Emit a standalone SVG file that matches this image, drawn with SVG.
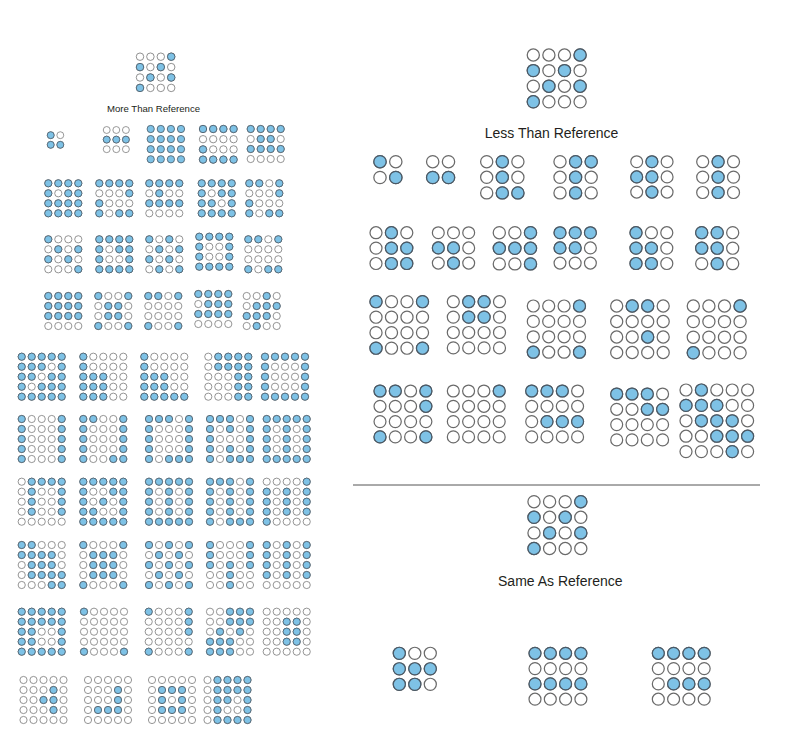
<svg xmlns="http://www.w3.org/2000/svg" xmlns:xlink="http://www.w3.org/1999/xlink" width="791" height="756" viewBox="0 0 791 756">
<style>
.df{fill:#7ec2e6;stroke:#4a5966;stroke-width:.08}
.de{fill:#fff;stroke:#7a7a7a;stroke-width:.08}
.dF{fill:#7ec2e6;stroke:#4a5966;stroke-width:.08}
.dE{fill:#fff;stroke:#6a6a6a;stroke-width:.08}
.f{fill:none;stroke:none;marker:url(#mf)}
.e{fill:none;stroke:none;marker:url(#me)}
.F{fill:none;stroke:none;marker:url(#MF)}
.E{fill:none;stroke:none;marker:url(#ME)}
marker{overflow:visible}
text{font-family:"Liberation Sans",Arial,sans-serif;fill:#231f20;text-anchor:middle}
.sm{font-size:9.6px}
.lg{font-size:14px}
.rule{stroke:#555;stroke-width:1}
</style>
<defs>
<marker id="mf" markerUnits="userSpaceOnUse" markerWidth="1" markerHeight="1" overflow="visible"><circle r=".36" class="df"/></marker>
<marker id="me" markerUnits="userSpaceOnUse" markerWidth="1" markerHeight="1" overflow="visible"><circle r=".36" class="de"/></marker>
<marker id="MF" markerUnits="userSpaceOnUse" markerWidth="1" markerHeight="1" overflow="visible"><circle r=".39" class="dF"/></marker>
<marker id="ME" markerUnits="userSpaceOnUse" markerWidth="1" markerHeight="1" overflow="visible"><circle r=".39" class="dE"/></marker>
<circle id="sF" r=".39" class="dF"/>
<path id="g2" d="M0 0 1 0 0 1 1 1"/>
<path id="g3" d="M0 0 1 0 2 0 0 1 1 1 2 1 0 2 1 2 2 2"/>
<path id="g4" d="M0 0 1 0 2 0 3 0 0 1 1 1 2 1 3 1 0 2 1 2 2 2 3 2 0 3 1 3 2 3 3 3"/>
<path id="g5" d="M0 0 1 0 2 0 3 0 4 0 0 1 1 1 2 1 3 1 4 1 0 2 1 2 2 2 3 2 4 2 0 3 1 3 2 3 3 3 4 3 0 4 1 4 2 4 3 4 4 4"/>
</defs>

<g id="dividers"><line class="rule" x1="353" y1="485" x2="760" y2="485"/></g>

<!-- LEFT: More Than Reference -->
<g id="more-ref" transform="translate(140,56.7) scale(10.4)"><use href="#g4" class="e"/><path class="f" d="M3 0 0 1 2 1 1 2 3 2 0 3"/></g>
<text class="sm" x="153.5" y="111.6">More Than Reference</text>

<g id="m1a" transform="translate(50.7,135.2) scale(9.6)"><use href="#g2" class="e"/><path class="f" d="M0 0 0 1 1 1"/></g>
<g id="m1b" transform="translate(106.7,130) scale(9.6)"><use href="#g3" class="e"/><path class="f" d="M0 1 1 1 2 1"/></g>
<g id="m1c" transform="translate(150.7,129) scale(10.1)"><use href="#g4" class="f"/></g>
<g id="m1d" transform="translate(203,129) scale(10.2)"><use href="#g4" class="e"/><path class="f" d="M0 0 1 0 2 0 3 0 0 2 0 3 1 3 2 3 3 3"/></g>
<g id="m1e" transform="translate(250.7,129) scale(10)"><use href="#g4" class="e"/><path class="f" d="M0 0 1 0 2 0 3 0 1 1 2 1 0 2 1 2 2 2 3 2"/></g>

<g id="m2a" transform="translate(48.3,183.3) scale(10)"><use href="#g4" class="e"/><path class="f" d="M0 0 1 0 2 0 3 0 0 1 2 1 3 1 0 2 1 2 2 2 3 2 0 3 1 3 2 3 3 3"/></g>
<g id="m2b" transform="translate(99.3,183.3) scale(10)"><use href="#g4" class="e"/><path class="f" d="M0 0 1 0 2 0 3 0 3 1 0 2 0 3 2 3 3 3"/></g>
<g id="m2c" transform="translate(149.3,183.3) scale(10)"><use href="#g4" class="e"/><path class="f" d="M0 0 1 0 2 0 3 0 1 1 0 2 1 2 2 2 3 2"/></g>
<g id="m2d" transform="translate(201.7,183.3) scale(10)"><use href="#g4" class="e"/><path class="f" d="M0 0 1 0 2 0 3 0 0 1 2 1 3 1 0 2 1 2 3 2 0 3 1 3 2 3 3 3"/></g>
<g id="m2e" transform="translate(249.3,183.3) scale(10)"><use href="#g4" class="e"/><path class="f" d="M0 0 1 0 3 0 3 1 0 2 0 3 2 3 3 3"/></g>

<g id="m3a" transform="translate(48.3,239.3) scale(10)"><use href="#g4" class="e"/><path class="f" d="M0 0 1 1 3 1 0 2 2 2 3 3"/></g>
<g id="m3b" transform="translate(99.3,239.3) scale(10)"><use href="#g4" class="e"/><path class="f" d="M0 0 1 0 2 0 3 0 0 1 2 1 3 1 0 2 3 2 0 3 1 3 2 3 3 3"/></g>
<g id="m3c" transform="translate(149.3,239.3) scale(10)"><use href="#g4" class="e"/><path class="f" d="M0 0 2 0 1 1 3 1 0 2 2 2 1 3 3 3"/></g>
<g id="m3d" transform="translate(199.3,236.7) scale(10)"><use href="#g4" class="e"/><path class="f" d="M0 0 1 0 2 0 3 0 0 1 3 1 0 2 3 2 0 3 1 3 2 3 3 3"/></g>
<g id="m3e" transform="translate(248.3,239.3) scale(10)"><use href="#g4" class="e"/><path class="f" d="M0 0 1 0 3 0 0 3 2 3 3 3"/></g>

<g id="m4a" transform="translate(48.3,296) scale(10)"><use href="#g4" class="e"/><path class="f" d="M0 0 1 0 2 0 3 0 0 1 1 1 2 1 3 1 0 2 1 2 2 2 3 2"/></g>
<g id="m4b" transform="translate(98.3,296) scale(10)"><use href="#g4" class="e"/><path class="f" d="M0 0 3 0 1 1 2 1 1 2 2 2 0 3 3 3"/></g>
<g id="m4c" transform="translate(148.3,296) scale(10)"><use href="#g4" class="e"/><path class="f" d="M0 0 1 0 3 0 0 3 3 3"/></g>
<g id="m4d" transform="translate(198.3,294) scale(10)"><use href="#g4" class="e"/><path class="f" d="M0 0 1 0 2 0 3 0 1 1 2 1 3 1 0 2 1 2 2 2 3 2"/></g>
<g id="m4e" transform="translate(246.7,296) scale(10)"><use href="#g4" class="e"/><path class="f" d="M2 0 1 1 2 1 3 1 0 2 1 2 2 2 1 3"/></g>

<g id="m5a" transform="translate(21.7,356.7) scale(10)"><use href="#g5" class="e"/><path class="f" d="M0 0 1 0 2 0 3 0 4 0 0 1 1 1 2 1 4 1 0 2 1 2 3 2 4 2 0 3 2 3 3 3 4 3 0 4 1 4 2 4 3 4 4 4"/></g>
<g id="m5b" transform="translate(83.3,356.7) scale(10)"><use href="#g5" class="e"/><path class="f" d="M0 0 0 1 0 2 1 2 2 2 0 3 1 3 2 3 0 4 1 4 2 4"/></g>
<g id="m5c" transform="translate(144.3,356.7) scale(10)"><use href="#g5" class="e"/><path class="f" d="M0 0 0 1 0 2 1 2 2 2 0 3 1 3 2 3 0 4 1 4 2 4 3 4 4 4"/></g>
<g id="m5d" transform="translate(208.3,356.7) scale(10)"><use href="#g5" class="e"/><path class="f" d="M1 0 2 0 3 0 4 0 1 1 2 1 3 1 4 1 3 2 4 2 3 3 4 3 3 4 4 4"/></g>
<g id="m5e" transform="translate(265,356.7) scale(10)"><use href="#g5" class="e"/><path class="f" d="M0 0 1 0 2 0 3 0 4 0 0 1 4 1 0 2 4 2 0 3 4 3 0 4 1 4 2 4 3 4 4 4"/></g>

<g id="m6a" transform="translate(21.7,419) scale(10)"><use href="#g5" class="e"/><path class="f" d="M0 0 4 0 0 1 4 1 0 2 4 2 0 3 4 3 0 4 4 4"/></g>
<g id="m6b" transform="translate(83.3,419) scale(10)"><use href="#g5" class="e"/><path class="f" d="M0 0 1 0 4 0 0 1 4 1 0 2 4 2 0 3 4 3 0 4 3 4 4 4"/></g>
<g id="m6c" transform="translate(149,419) scale(10)"><use href="#g5" class="e"/><path class="f" d="M0 0 1 0 2 0 4 0 0 1 4 1 0 2 4 2 0 3 4 3 0 4 2 4 3 4 4 4"/></g>
<g id="m6d" transform="translate(210,419) scale(10)"><use href="#g5" class="e"/><path class="f" d="M0 0 1 0 2 0 4 0 0 1 2 1 4 1 0 2 4 2 0 3 2 3 4 3 0 4 2 4 3 4 4 4"/></g>
<g id="m6e" transform="translate(266.7,419) scale(10)"><use href="#g5" class="e"/><path class="f" d="M0 0 1 0 2 0 3 0 4 0 0 1 2 1 4 1 0 2 2 2 4 2 0 3 2 3 4 3 0 4 1 4 2 4 3 4 4 4"/></g>

<g id="m7a" transform="translate(21.7,481.7) scale(10)"><use href="#g5" class="e"/><path class="f" d="M1 0 2 0 3 0 4 0 1 1 4 1 1 2 4 2 1 3 4 3"/></g>
<g id="m7b" transform="translate(83.3,481.7) scale(10)"><use href="#g5" class="e"/><path class="f" d="M0 0 1 0 2 0 3 0 4 0 0 1 3 1 4 1 0 2 2 2 4 2 0 3 1 3 4 3 0 4 1 4 2 4 3 4 4 4"/></g>
<g id="m7c" transform="translate(149,481.7) scale(10)"><use href="#g5" class="e"/><path class="f" d="M0 0 1 0 2 0 3 0 4 0 0 1 2 1 4 1 0 2 2 2 4 2 0 3 2 3 4 3 0 4 1 4 2 4 3 4 4 4"/></g>
<g id="m7d" transform="translate(210,481.7) scale(10)"><use href="#g5" class="e"/><path class="f" d="M0 0 1 0 2 0 4 0 0 1 2 1 4 1 0 2 2 2 4 2 0 3 2 3 4 3 0 4 2 4 3 4 4 4"/></g>
<g id="m7e" transform="translate(266.7,481.7) scale(10)"><use href="#g5" class="e"/><path class="f" d="M4 0 0 1 2 1 4 1 0 2 2 2 4 2 0 3 2 3 4 3 0 4"/></g>

<g id="m8a" transform="translate(21.7,545) scale(10)"><use href="#g5" class="e"/><path class="f" d="M0 0 1 0 0 1 1 1 2 1 3 1 1 2 2 2 3 2 1 3 2 3 3 3 4 3 3 4 4 4"/></g>
<g id="m8b" transform="translate(83.3,545) scale(10)"><use href="#g5" class="e"/><path class="f" d="M0 0 4 0 1 1 2 1 3 1 1 2 2 2 3 2 1 3 2 3 3 3 0 4 4 4"/></g>
<g id="m8c" transform="translate(149,545) scale(10)"><use href="#g5" class="e"/><path class="f" d="M0 0 2 0 4 0 1 1 3 1 0 2 2 2 4 2 1 3 3 3 0 4 2 4 4 4"/></g>
<g id="m8d" transform="translate(210,545) scale(10)"><use href="#g5" class="e"/><path class="f" d="M0 0 4 0 0 1 4 1 0 2 2 2 4 2 2 3 2 4"/></g>
<g id="m8e" transform="translate(266.7,545) scale(10)"><use href="#g5" class="e"/><path class="f" d="M0 0 2 0 4 0 0 1 2 1 4 1 0 2 2 2 4 2 0 3 2 3 4 3"/></g>

<g id="m9a" transform="translate(21.7,611.7) scale(10)"><use href="#g5" class="e"/><path class="f" d="M0 0 1 0 2 0 3 0 4 0 0 1 1 1 2 1 3 1 4 1 0 2 1 2 4 2 0 3 1 3 4 3 0 4 1 4 2 4 3 4 4 4"/></g>
<g id="m9b" transform="translate(84,611.7) scale(10)"><use href="#g5" class="e"/><path class="f" d="M0 0 0 4 4 4"/></g>
<g id="m9c" transform="translate(148.7,611.7) scale(10)"><use href="#g5" class="e"/><path class="f" d="M0 0 4 0 4 1 4 2 0 4 4 4"/></g>
<g id="m9d" transform="translate(210,611.7) scale(10)"><use href="#g5" class="e"/><path class="f" d="M2 0 3 0 4 0 2 1 3 1 4 1 1 2 3 2 0 3 1 3 2 3 0 4 1 4 2 4"/></g>
<g id="m9e" transform="translate(266.7,611.7) scale(10)"><use href="#g5" class="e"/><path class="f" d="M2 1 3 1 2 2 3 2 2 3 3 3"/></g>

<g id="m10a" transform="translate(23.5,680) scale(10)"><use href="#g5" class="e"/><path class="f" d="M3 1 2 2 3 2 3 3"/></g>
<g id="m10b" transform="translate(88,680) scale(10)"><use href="#g5" class="e"/><path class="f" d="M3 1 3 2 1 3 2 3 3 3"/></g>
<g id="m10c" transform="translate(152,680) scale(10)"><use href="#g5" class="e"/><path class="f" d="M1 1 2 1 3 1 1 2 3 2 1 3 2 3 3 3"/></g>
<g id="m10d" transform="translate(207.5,680) scale(10)"><use href="#g5" class="e"/><path class="f" d="M1 0 2 0 3 0 4 0 1 1 2 1 3 1 4 1 1 2 2 2 4 2 1 3 4 3 1 4 2 4 3 4 4 4"/></g>

<!-- RIGHT: Less Than Reference -->
<g id="less-ref" transform="translate(533.3,55) scale(15.6)"><use href="#g4" class="E"/><path class="F" d="M3 0 0 1 2 1 1 2 3 2 0 3"/></g>
<text class="lg" x="551.5" y="138">Less Than Reference</text>

<g id="l1a" transform="translate(380,161.7) scale(15.8)"><use href="#g2" class="E"/><path class="F" d="M0 0 1 1"/></g>
<g id="l1b" transform="translate(432.7,161.7) scale(15.8)"><use href="#g2" class="E"/><path class="F" d="M0 1 1 1"/></g>
<g id="l1c" transform="translate(486.7,161.7) scale(15.6)"><use href="#g3" class="E"/><path class="F" d="M1 0 1 1 1 2 2 2"/></g>
<g id="l1d" transform="translate(560,161.7) scale(15.6)"><use href="#g3" class="E"/><path class="F" d="M1 0 2 0 1 1 1 2"/></g>
<g id="l1e" transform="translate(636.7,161.7) scale(15.2)"><use href="#g3" class="E"/><path class="F" d="M1 0 0 1 1 1 1 2"/></g>
<g id="l1f" transform="translate(702.7,161.7) scale(15.4)"><use href="#g3" class="E"/><path class="F" d="M1 0 1 1 1 2"/></g>

<g id="l2a" transform="translate(376,232.7) scale(15.4)"><use href="#g3" class="E"/><path class="F" d="M1 0 1 1 2 1 1 2 2 2"/></g>
<g id="l2b" transform="translate(438.3,232.7) scale(15.2)"><use href="#g3" class="E"/><path class="F" d="M0 1 1 1 1 2"/></g>
<g id="l2c" transform="translate(499.3,232.7) scale(15.6)"><use href="#g3" class="E"/><path class="F" d="M2 0 0 1 1 1 2 1 2 2"/></g>
<g id="l2d" transform="translate(560,232.7) scale(15.2)"><use href="#g3" class="E"/><path class="F" d="M0 0 1 0 2 0 0 1 1 1"/></g>
<g id="l2e" transform="translate(636,232.7) scale(15.4)"><use href="#g3" class="E"/><path class="F" d="M0 0 0 1 1 1 0 2 1 2"/></g>
<g id="l2f" transform="translate(701.7,232.7) scale(15.5)"><use href="#g3" class="E"/><path class="F" d="M0 0 1 0 0 1 1 1 1 2"/></g>

<g id="l3a" transform="translate(376,301.7) scale(15.5)"><use href="#g4" class="E"/><path class="F" d="M0 0 3 0 0 3 3 3"/></g>
<g id="l3b" transform="translate(453.3,301.7) scale(15.4)"><use href="#g4" class="E"/><path class="F" d="M1 0 2 0 1 1 2 1"/></g>
<g id="l3c" transform="translate(533.3,306) scale(15.4)"><use href="#g4" class="E"/><path class="F" d="M3 0 0 3 3 3"/></g>
<g id="l3d" transform="translate(616.7,306) scale(15.5)"><use href="#g4" class="E"/><path class="F" d="M1 0 2 0 2 2"/></g>
<g id="l3e" transform="translate(693.3,306) scale(15.6)"><use href="#g4" class="E"/><path class="F" d="M3 0 0 3"/></g>

<g id="l4a" transform="translate(380,391) scale(15.3)"><use href="#g4" class="E"/><path class="F" d="M0 0 1 0 3 0 3 1 0 3 3 3"/></g>
<g id="l4b" transform="translate(453.3,391) scale(15.3)"><use href="#g4" class="E"/><use href="#sF" x="3" y="0"/></g>
<g id="l4c" transform="translate(531.7,391) scale(15.3)"><use href="#g4" class="E"/><path class="F" d="M0 0 1 0 2 0 1 2 2 2 3 2"/></g>
<g id="l4d" transform="translate(616.7,394) scale(15.3)"><use href="#g4" class="E"/><path class="F" d="M0 0 1 0 2 0 2 1 3 1"/></g>
<g id="l4e" transform="translate(686,390) scale(15.4)"><use href="#g5" class="E"/><path class="F" d="M1 0 0 1 1 1 2 1 1 2 2 2 3 2 2 3 3 3 4 3 3 4"/></g>

<!-- RIGHT: Same As Reference -->
<g id="same-ref" transform="translate(534,501.7) scale(15.6)"><use href="#g4" class="E"/><path class="F" d="M3 0 0 1 2 1 1 2 3 2 0 3"/></g>
<text class="lg" x="560.3" y="586.4">Same As Reference</text>

<g id="s1" transform="translate(399.3,653.3) scale(15.5)"><use href="#g3" class="E"/><path class="F" d="M0 0 0 1 1 1 2 1 0 2 1 2"/></g>
<g id="s2" transform="translate(535,653.3) scale(15.3)"><use href="#g4" class="E"/><path class="F" d="M0 0 1 0 2 0 3 0 0 2 1 2 2 2 3 2"/></g>
<g id="s3" transform="translate(658.3,653.3) scale(15.3)"><use href="#g4" class="E"/><path class="F" d="M0 0 1 0 2 0 3 0 1 2 2 2 3 2"/></g>
</svg>
